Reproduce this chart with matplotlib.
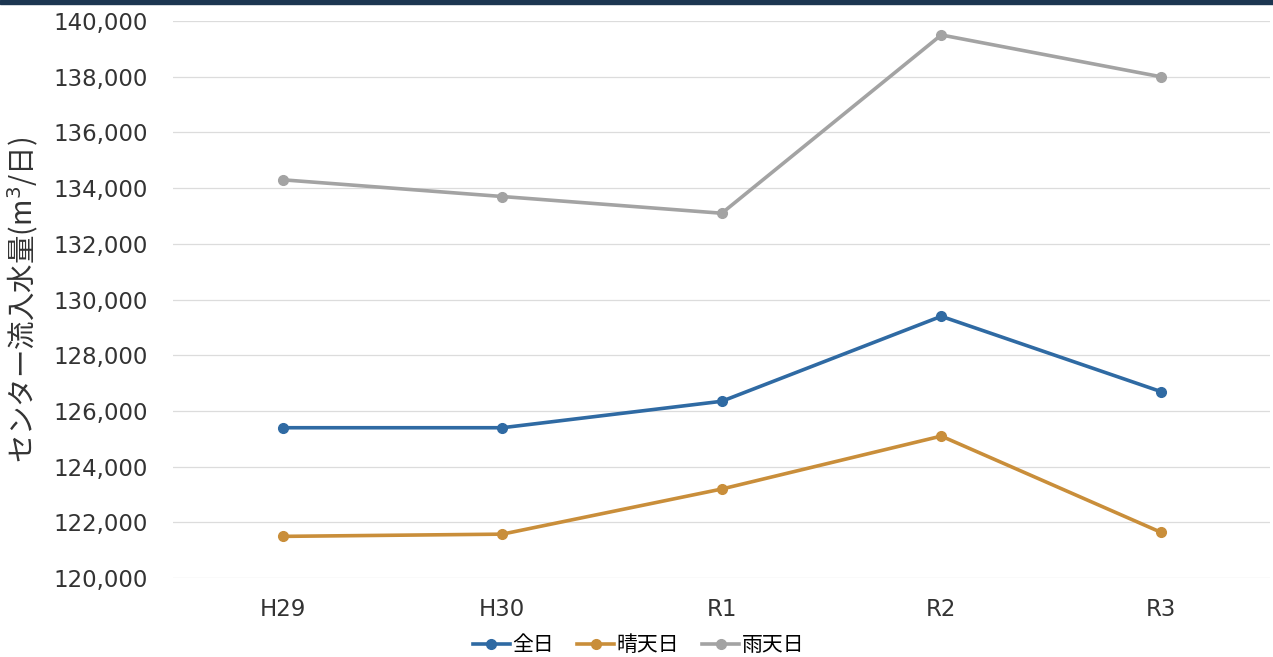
import matplotlib
matplotlib.use('Agg')
import matplotlib.pyplot as plt
from matplotlib import patches
from matplotlib.ticker import FuncFormatter

plt.rcParams['font.family'] = ['DejaVu Sans', 'Noto Sans CJK JP']

years = ['H29', 'H30', 'R1', 'R2', 'R3']
zenjitsu = [125400, 125400, 126350, 129400, 126700]   # 全日
seiten = [121500, 121580, 123200, 125100, 121650]     # 晴天日
uten = [134300, 133700, 133100, 139500, 138000]       # 雨天日

series = [
    ('全日', zenjitsu, '#2f6aa3'),
    ('晴天日', seiten, '#c98e3a'),
    ('雨天日', uten, '#a3a3a3'),
]

fig = plt.figure(figsize=(12.73, 6.57), dpi=100)
ax = fig.add_axes([0.136, 0.120, 0.862, 0.848])

x = list(range(len(years)))
for name, vals, col in series:
    ax.plot(x, vals, color=col, lw=2.6, marker='o', ms=7, label=name)

ax.set_xlim(-0.5, len(years) - 0.5)
ax.set_ylim(120000, 140000)
ax.set_yticks(range(120000, 140001, 2000))
ax.yaxis.set_major_formatter(FuncFormatter(lambda v, p: f'{int(v):,}'))
ax.set_xticks(x)
ax.set_xticklabels(years)
ax.tick_params(axis='both', length=0, labelsize=16.5, colors='#333333')
ax.tick_params(axis='y', pad=18)
ax.tick_params(axis='x', pad=14)
ax.grid(axis='y', color='#dcdcdc', lw=0.9)
ax.set_axisbelow(True)
for s in ax.spines.values():
    s.set_visible(False)

ax.set_ylabel('センター流入水量(m$^3$/日)', fontsize=20.5, color='#333333',
              family=['Noto Sans CJK JP', 'DejaVu Sans'])
ax.yaxis.set_label_coords(-0.12, 0.5)

ax.legend(loc='center', bbox_to_anchor=(0.424, -0.12), ncol=3, frameon=False,
          handlelength=1.8, handletextpad=0.1, columnspacing=1.1,
          prop={'family': ['Noto Sans CJK JP', 'DejaVu Sans'], 'size': 15})

# dark band along the top edge
fig.patches.append(patches.Rectangle((0, 0.994), 1, 0.006, transform=fig.transFigure,
                                     color='#1c3651', zorder=5))

fig.savefig('out.png', dpi=100)
